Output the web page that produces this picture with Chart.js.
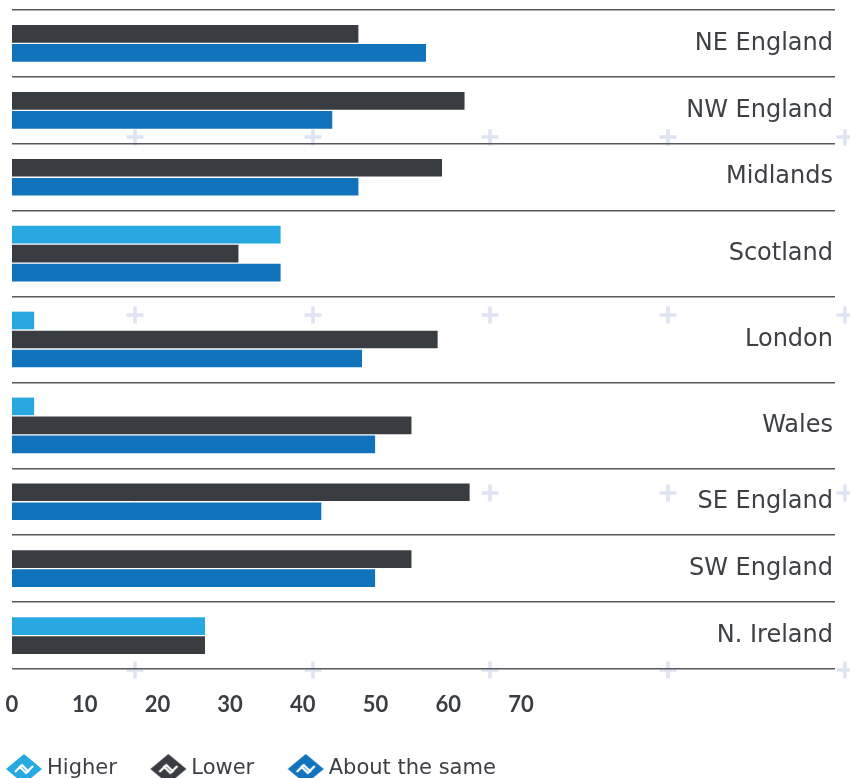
<!DOCTYPE html>
<html>
<head>
<meta charset="utf-8">
<title>Regional comparison</title>
<script src="https://cdn.jsdelivr.net/npm/chart.js@4.4.1/dist/chart.umd.min.js"></script>
<style>
  html, body { margin: 0; padding: 0; }
  body {
    width: 850px;
    height: 778px;
    overflow: hidden;
    background-color: #fff;
    /* faint "+" pattern behind the chart */
    background-image: url("data:image/svg+xml,%3Csvg xmlns='http://www.w3.org/2000/svg' width='177.6' height='177.6'%3E%3Cpath d='M80.3 87h17v3.6h-17zM87 80.3h3.6v17h-3.6z' fill='%23dfe4f3'/%3E%3C/svg%3E");
    background-size: 177.6px 177.6px;
    background-position: 46.2px 48.7px;
  }
  .chart-wrap { position: relative; width: 850px; height: 778px; }
</style>
</head>
<body>
<div class="chart-wrap"><canvas id="chart"></canvas></div>
<script>
var regions = ["NE England", "NW England", "Midlands", "Scotland", "London",
               "Wales", "SE England", "SW England", "N. Ireland"];
var higher    = [null, null, null, 36.9, 3.0, 3.0, null, null, 26.5];
var lower     = [47.6, 62.2, 59.1, 31.1, 58.5, 54.9, 62.9, 54.9, 26.5];
var aboutSame = [56.9, 44.0, 47.6, 36.9, 48.1, 49.9, 42.5, 49.9, null];
var xTicks = [0, 10, 20, 30, 40, 50, 60, 70];
var seriesNames = ["Higher", "Lower", "About the same"];
var seriesColors = ["#27a8e0", "#393d42", "#1173bb"];

document.addEventListener("DOMContentLoaded", function () {
  if (typeof Chart === "undefined") return;

  var series = [higher, lower, aboutSame];
  var ROW_PAD = 1.52; // empty space per row, in bar slots

  // rows only make room for the bars they actually have
  var edges = [0];
  var centres = [];
  regions.forEach(function (name, i) {
    var n = series.filter(function (s) { return s[i] !== null; }).length;
    var h = n + ROW_PAD;
    centres.push(edges[i] + h / 2);
    edges.push(edges[i] + h);
  });
  var yMax = edges[edges.length - 1];

  function makeIcon(color) {
    var c = document.createElement("canvas");
    c.width = 38;
    c.height = 32;
    var g = c.getContext("2d");
    g.translate(19, 16);
    g.fillStyle = color;
    g.beginPath();
    g.moveTo(0, -15);
    g.lineTo(18, 0);
    g.lineTo(0, 15);
    g.lineTo(-18, 0);
    g.closePath();
    g.fill();
    g.strokeStyle = "#fff";
    g.lineWidth = 2.2;
    g.beginPath();
    g.moveTo(-9, 3); g.lineTo(-2, -4); g.lineTo(5, 3);
    g.moveTo(-5, -3); g.lineTo(2, 4); g.lineTo(9, -3);
    g.stroke();
    return c;
  }
  var icons = seriesColors.map(makeIcon);

  // vertical axes should not push the plot area in
  function noVerticalPadding(scale) {
    scale.paddingTop = 0;
    scale.paddingBottom = 0;
  }

  Chart.defaults.font.family = "'DejaVu Sans', sans-serif";

  new Chart(document.getElementById("chart"), {
    type: "bar",
    data: {
      datasets: series.map(function (values, s) {
        return {
          label: seriesNames[s],
          data: values.map(function (v, i) { return { x: v, y: centres[i] }; }),
          backgroundColor: seriesColors[s],
          barThickness: 19,
          maxBarThickness: 17,
          skipNull: true,
          yAxisID: "y"
        };
      })
    },
    options: {
      indexAxis: "y",
      responsive: true,
      maintainAspectRatio: false,
      animation: false,
      layout: { padding: { left: -27.5, right: 0, top: 10, bottom: -11.5 } },
      scales: {
        x: {
          type: "linear",
          min: 0,
          max: 113.2,
          grid: { display: false, drawTicks: true, tickLength: 23 },
          border: { display: false },
          ticks: {
            padding: 0,
            color: "#3a3d42",
            font: { family: "Lato", size: 22, weight: "bold" }
          },
          afterBuildTicks: function (scale) {
            scale.ticks = xTicks.map(function (v) { return { value: v }; });
          },
          afterFit: function (scale) { scale.height = 50.5; }
        },
        y: {
          type: "linear",
          position: "left",
          reverse: true,
          offset: false,
          min: 0,
          max: yMax,
          grid: { offset: false, color: "#55585c", lineWidth: 1.5, drawTicks: false },
          border: { display: false },
          ticks: { display: false },
          afterBuildTicks: function (scale) {
            scale.ticks = edges.map(function (v) { return { value: v }; });
          },
          afterFit: function (scale) {
            scale.width = 39.5;
            noVerticalPadding(scale);
          }
        },
        y2: {
          type: "linear",
          position: "right",
          reverse: true,
          offset: false,
          min: 0,
          max: yMax,
          grid: { display: false, offset: false, drawTicks: false },
          border: { display: false },
          ticks: {
            mirror: true,
            padding: -2,
            autoSkip: false,
            color: "#3d4045",
            font: { size: 24 },
            callback: function (value, index) { return regions[index]; }
          },
          afterBuildTicks: function (scale) {
            scale.ticks = centres.map(function (v) { return { value: v }; });
          },
          afterFit: function (scale) {
            scale.width = 15;
            noVerticalPadding(scale);
          }
        }
      },
      plugins: {
        tooltip: { enabled: false },
        legend: {
          position: "bottom",
          align: "start",
          labels: {
            usePointStyle: true,
            pointStyleWidth: 25,
            padding: 39,
            color: "#3c3f44",
            font: { size: 21 },
            generateLabels: function (chart) {
              var items = Chart.defaults.plugins.legend.labels.generateLabels(chart);
              items.forEach(function (item, i) { item.pointStyle = icons[i]; });
              return items;
            }
          }
        }
      }
    }
  });
});
</script>
</body>
</html>
